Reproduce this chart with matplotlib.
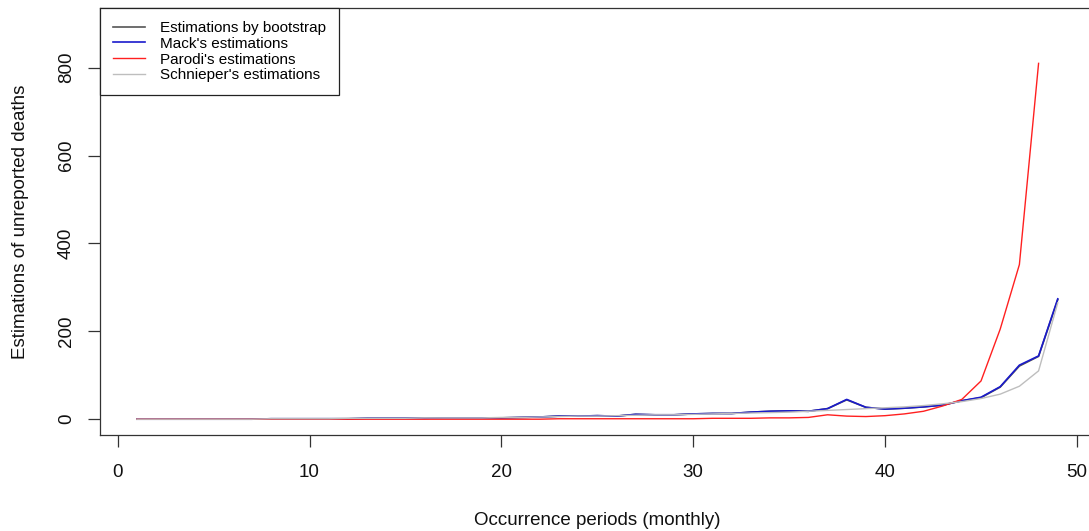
import numpy as np
import matplotlib
matplotlib.use("Agg")
import matplotlib.pyplot as plt

plt.rcParams['font.family'] = ['Liberation Sans', 'DejaVu Sans']

# occurrence periods
periods = np.arange(1, 50)

# Mack's estimations (periods 1..49)
mack = [0, 0, 0, 0, 0, 0, 0, 1, 1, 1,
        1, 1, 2, 2, 2, 2, 3, 3, 3, 3,
        4, 5, 7, 7, 8, 7, 11, 10, 10, 12,
        13, 13, 16, 18, 19, 18, 24, 45, 27, 23,
        25, 28, 32, 42, 50, 74, 123, 144, 274]

# bootstrap estimations (mostly hidden under Mack)
boot = [0, 0, 0, 0, 0, 0, 0, 1, 1, 1,
        1, 1, 2, 2, 2, 2, 3, 3, 3, 3,
        4, 5, 7, 7, 8, 7, 11, 10, 10, 12,
        13, 13, 16, 18, 19, 18, 24, 44, 27, 23,
        25, 28, 32, 42, 49, 73, 121, 143, 272]

# Parodi's estimations (periods 1..48)
parodi = [0, 0, 0, 0, 0, 0, 0, 0, 0, 0,
          0, 0, 0, 0, 0, 0, 0, 0, 0, 0,
          0, 0, 1, 1, 1, 1, 1, 1, 1, 1,
          2, 2, 2, 3, 3, 4, 10, 7, 6, 8,
          12, 18, 30, 45, 87, 205, 352, 810]

# Schnieper's estimations (periods 1..49)
schnieper = [0, 0, 0, 0, 0, 0, 0, 1, 1, 1,
             1, 2, 2, 2, 2, 3, 3, 3, 3, 4,
             4, 5, 6, 7, 7, 8, 9, 10, 10, 11,
             12, 13, 14, 15, 16, 18, 20, 22, 24, 26,
             28, 31, 35, 40, 47, 57, 75, 110, 265]

fig = plt.figure(figsize=(10.89, 5.31), dpi=100)
ax = fig.add_axes([100/1089, 96/531, 994.6/1089, 427/531])

ax.plot(periods, boot, color='#555555', lw=1.2, label='Estimations by bootstrap')
ax.plot(periods, mack, color='#1a1acc', lw=1.2, label="Mack's estimations")
ax.plot(periods[:len(parodi)], parodi, color='#ff2020', lw=1.0, label="Parodi's estimations")
ax.plot(periods, schnieper, color='#bebebe', lw=1.0, label="Schnieper's estimations")

ax.set_xlim(-0.92, 50.92)
ax.set_ylim(-36, 936)
ax.set_xticks([0, 10, 20, 30, 40, 50])
ax.set_yticks([0, 200, 400, 600, 800])
ax.set_yticklabels(['0', '200', '400', '600', '800'], rotation=90, va='center')
ax.tick_params(direction='out', length=8.5, width=0.9, labelsize=13.5, colors='#333333',
               labelcolor='#111111')
ax.tick_params(axis='x', pad=12.5)
ax.tick_params(axis='y', pad=9.5)
for s in ax.spines.values():
    s.set_color('#333333')
    s.set_linewidth(0.9)

ax.set_xlabel('Occurrence periods (monthly)', fontsize=13.5, labelpad=22, color='#111111')
ax.set_ylabel('Estimations of unreported deaths', fontsize=13.5, labelpad=21, color='#111111')

leg = ax.legend(loc='upper left', borderaxespad=0, fancybox=False, edgecolor='#222222',
                framealpha=1, fontsize=11, handlelength=2.1, handletextpad=1.0,
                labelspacing=0.12, borderpad=0.85)
leg.get_frame().set_linewidth(0.9)

fig.savefig('out.png', dpi=100)
